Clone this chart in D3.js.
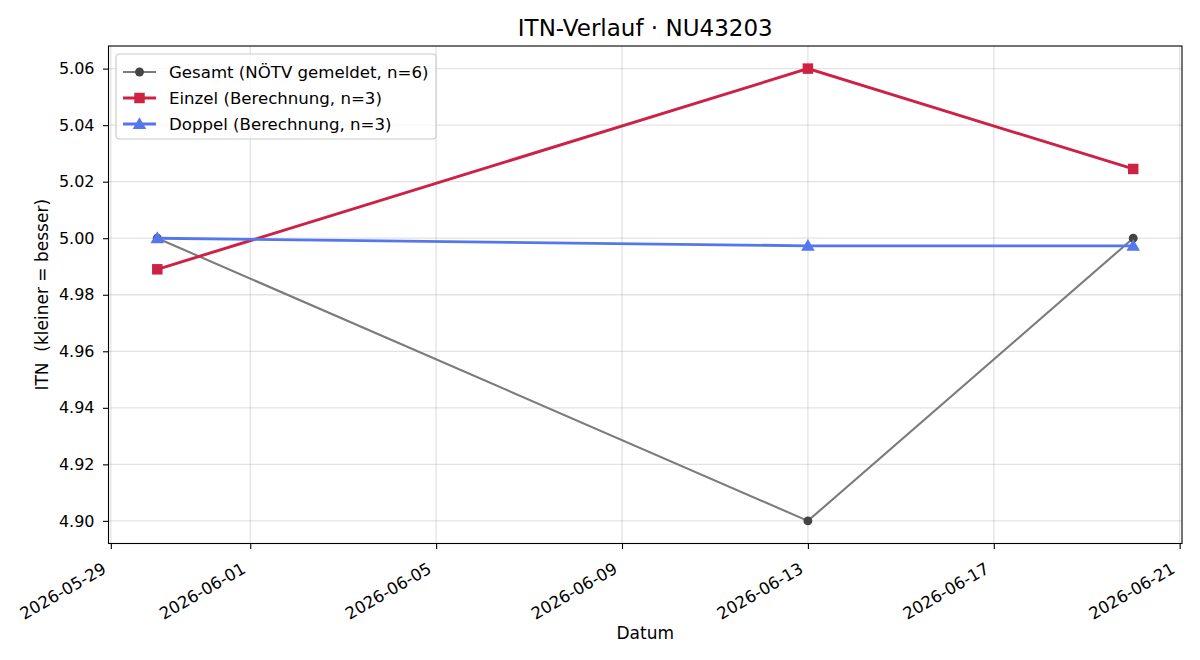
<!DOCTYPE html>
<html><head><meta charset="utf-8">
<script src="https://cdn.jsdelivr.net/npm/d3@7"></script>
<style>body{margin:0;background:#fff;} svg{display:block;font-family:"DejaVu Sans",sans-serif;} text{white-space:pre;}</style>
</head><body>
<svg id="c" width="1200" height="660"></svg>
<script>
const dates = ["2026-05-30", "2026-06-13", "2026-06-20"];
const gesamt = [5.00, 4.90, 5.00];
const einzel = [4.989, 5.060, 5.0245];
const doppel = [5.000, 4.9973, 4.9973];
const seriesNames = ["Gesamt (NÖTV gemeldet, n=6)", "Einzel (Berechnung, n=3)", "Doppel (Berechnung, n=3)"];
const xTickLabels = ["2026-05-29", "2026-06-01", "2026-06-05", "2026-06-09", "2026-06-13", "2026-06-17", "2026-06-21"];
const yTicks = [4.90, 4.92, 4.94, 4.96, 4.98, 5.00, 5.02, 5.04, 5.06];

const FONT = "'DejaVu Sans', sans-serif";
const parse = d3.utcParse("%Y-%m-%d");
const xs = dates.map(parse);
const L = 108.5, R = 1182, T = 46, B = 543.5;
const svg = d3.select("#c");
const allY = gesamt.concat(einzel, doppel);
const yMin = d3.min(allY), yMax = d3.max(allY), yPad = (yMax - yMin) * 0.05;
const xMin = d3.min(xs), xMax = d3.max(xs), xPad = (xMax - xMin) * 0.05;
const x = d3.scaleUtc().domain([new Date(+xMin - xPad), new Date(+xMax + xPad)]).range([L, R]);
const y = d3.scaleLinear().domain([yMin - yPad, yMax + yPad]).range([B, T]);

const g = svg.append("g");
const xt = xTickLabels.map(parse);
g.selectAll(".gx").data(xt).join("line").attr("x1", d => x(d)).attr("x2", d => x(d))
  .attr("y1", T).attr("y2", B).attr("stroke", "#b0b0b0").attr("stroke-opacity", 0.35).attr("stroke-width", 1.3);
g.selectAll(".gy").data(yTicks).join("line").attr("y1", d => y(d)).attr("y2", d => y(d))
  .attr("x1", L).attr("x2", R).attr("stroke", "#b0b0b0").attr("stroke-opacity", 0.35).attr("stroke-width", 1.3);

const xAxis = d3.axisBottom(x).tickValues(xt).tickFormat(d3.utcFormat("%Y-%m-%d")).tickSize(5.5).tickPadding(4);
const gx = svg.append("g").attr("transform", `translate(0,${B})`).call(xAxis).attr("font-family", FONT);
gx.select(".domain").remove();
gx.selectAll("line").attr("stroke", "#000").attr("stroke-width", 1.1);
gx.selectAll("text").attr("font-size", 16.5).attr("fill", "#000")
  .attr("text-anchor", "end").attr("dy", null).attr("y", 0).attr("x", 0)
  .attr("transform", "translate(-4,28.5) rotate(-30)");

const yAxis = d3.axisLeft(y).tickValues(yTicks).tickFormat(d3.format(".2f")).tickSize(5.5).tickPadding(8.5);
const gy = svg.append("g").attr("transform", `translate(${L},0)`).call(yAxis).attr("font-family", FONT);
gy.select(".domain").remove();
gy.selectAll("line").attr("stroke", "#000").attr("stroke-width", 1.1);
gy.selectAll("text").attr("font-size", 16).attr("fill", "#000");

svg.append("rect").attr("x", L).attr("y", T).attr("width", R - L).attr("height", B - T)
  .attr("fill", "none").attr("stroke", "#000").attr("stroke-width", 1.1);

const line = d3.line().x((d, i) => x(xs[i])).y(d => y(d));
const series = [
  {vals: gesamt, color: "#7b7b7b", mcolor: "#444444", w: 2.1, marker: "circle"},
  {vals: einzel, color: "#cc2244", mcolor: "#cc2244", w: 2.9, marker: "square"},
  {vals: doppel, color: "#5577ee", mcolor: "#5577ee", w: 2.9, marker: "triangle"}
];
const sym = {circle: d3.symbol(d3.symbolCircle, 62), square: d3.symbol(d3.symbolSquare, 110), triangle: d3.symbol(d3.symbolTriangle, 80)};
series.forEach(s => {
  svg.append("path").attr("d", line(s.vals)).attr("fill", "none").attr("stroke", s.color).attr("stroke-width", s.w);
  svg.selectAll(null).data(s.vals).join("path").attr("d", sym[s.marker]())
    .attr("transform", (d, i) => `translate(${x(xs[i])},${y(d) + (s.marker === "triangle" ? 1 : 0)})`)
    .attr("fill", s.mcolor);
});

const lg = svg.append("g");
lg.append("rect").attr("x", 116).attr("y", 54).attr("width", 320).attr("height", 85).attr("rx", 3.5)
  .attr("fill", "#fff").attr("fill-opacity", 0.8).attr("stroke", "#cccccc").attr("stroke-width", 1.2);
series.forEach((s, i) => {
  const yy = 72 + i * 26;
  lg.append("line").attr("x1", 123).attr("x2", 156).attr("y1", yy).attr("y2", yy).attr("stroke", s.color).attr("stroke-width", s.w);
  lg.append("path").attr("d", sym[s.marker]()).attr("transform", `translate(139.5,${yy + (s.marker === "triangle" ? 1 : 0)})`).attr("fill", s.mcolor);
  lg.append("text").attr("x", 169).attr("y", yy).attr("dy", "0.36em").attr("font-size", 16.6).text(seriesNames[i]);
});

svg.append("text").attr("x", (L + R) / 2).attr("y", 36).attr("text-anchor", "middle").attr("font-size", 23).text("ITN-Verlauf · NU43203");
svg.append("text").attr("x", (L + R) / 2).attr("y", 639).attr("text-anchor", "middle").attr("font-size", 17).text("Datum");
svg.append("text").attr("transform", `translate(48,${(T + B) / 2}) rotate(-90)`).attr("text-anchor", "middle").attr("font-size", 17).text("ITN  (kleiner = besser)");
</script>
</body></html>
